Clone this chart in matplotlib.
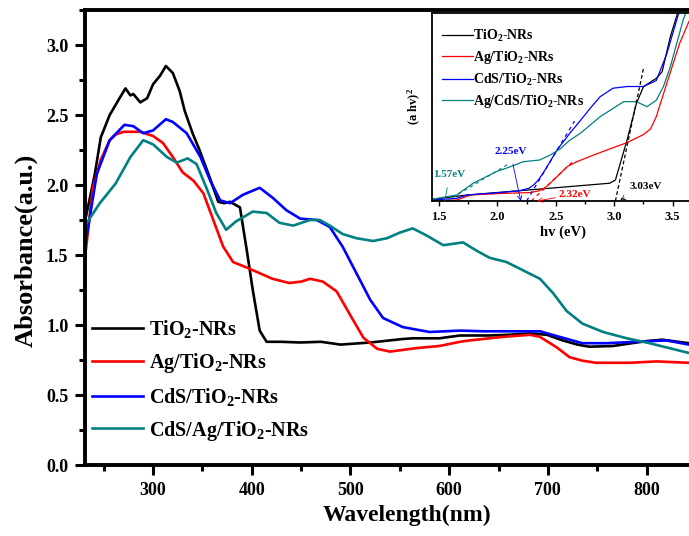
import matplotlib
matplotlib.use("Agg")
import matplotlib.pyplot as plt
from matplotlib.ticker import MultipleLocator

plt.rcParams['font.family'] = ['Liberation Serif', 'DejaVu Serif']
plt.rcParams['font.weight'] = 'bold'
plt.rcParams['mathtext.default'] = 'regular'

TEAL = '#008080'

# UV-vis absorbance spectra
tio2_wl = [231, 241, 247, 256, 266, 272, 277, 280, 287, 294, 300, 307, 313, 320, 327, 332,
           340, 347, 356, 366, 372, 378, 388, 395, 401, 408, 415, 430, 449, 470, 490, 500,
           520, 540, 553, 563, 590, 611, 640, 660, 682, 699, 715, 730, 742, 766, 785, 800,
           816, 843]
tio2_abs = [1.74, 2.08, 2.34, 2.50, 2.62, 2.69, 2.64, 2.65, 2.59, 2.62, 2.72, 2.78, 2.85, 2.80,
            2.67, 2.53, 2.37, 2.25, 2.08, 1.88, 1.87, 1.88, 1.84, 1.53, 1.25, 0.96, 0.88, 0.88,
            0.875, 0.88, 0.86, 0.865, 0.875, 0.89, 0.90, 0.905, 0.905, 0.925, 0.925, 0.93,
            0.94, 0.93, 0.89, 0.86, 0.845, 0.85, 0.87, 0.885, 0.895, 0.87]

ag_wl = [231, 239, 247, 256, 262, 270, 287, 300, 310, 320, 330, 341, 351, 361, 371, 381, 395,
         408, 421, 438, 450, 459, 472, 486, 499, 513, 527, 540, 567, 590, 611, 621, 654, 682,
         692, 709, 722, 735, 749, 783, 810, 843]
ag_abs = [1.48, 1.98, 2.18, 2.32, 2.36, 2.38, 2.38, 2.35, 2.30, 2.20, 2.09, 2.03, 1.94, 1.75,
          1.56, 1.45, 1.41, 1.37, 1.33, 1.30, 1.31, 1.33, 1.31, 1.24, 1.08, 0.91, 0.83, 0.81,
          0.835, 0.85, 0.88, 0.89, 0.915, 0.93, 0.915, 0.84, 0.77, 0.745, 0.73, 0.73, 0.74,
          0.73]

cds_wl = [231, 243, 256, 271, 280, 290, 300, 313, 320, 334, 348, 358, 368, 378, 391, 408, 421,
          435, 449, 466, 479, 492, 506, 520, 533, 553, 580, 611, 635, 665, 692, 712, 735, 759,
          790, 820, 843]
cds_abs = [1.56, 2.08, 2.32, 2.43, 2.42, 2.37, 2.39, 2.47, 2.45, 2.37, 2.20, 2.03, 1.89, 1.87,
           1.93, 1.98, 1.91, 1.82, 1.76, 1.75, 1.70, 1.56, 1.37, 1.18, 1.05, 0.985, 0.95, 0.96,
           0.955, 0.955, 0.955, 0.915, 0.87, 0.87, 0.88, 0.89, 0.86]

cdsag_wl = [231, 246, 262, 277, 290, 300, 314, 324, 335, 344, 354, 364, 374, 384, 401, 415,
            428, 442, 459, 469, 479, 492, 506, 523, 537, 550, 563, 577, 594, 614, 628, 641,
            658, 675, 692, 705, 719, 735, 756, 780, 803, 823, 843]
cdsag_abs = [1.71, 1.87, 2.01, 2.20, 2.32, 2.29, 2.20, 2.16, 2.19, 2.15, 1.98, 1.80, 1.68,
             1.74, 1.81, 1.80, 1.73, 1.71, 1.75, 1.75, 1.71, 1.65, 1.62, 1.60, 1.62, 1.66,
             1.69, 1.64, 1.57, 1.59, 1.53, 1.48, 1.45, 1.39, 1.33, 1.23, 1.10, 1.01, 0.95,
             0.905, 0.87, 0.835, 0.80]

# Tauc plot, (a hv)^2 in arbitrary units
t_tio2_ev = [1.44, 1.74, 2.19, 2.54, 2.96, 3.01, 3.11, 3.19, 3.25, 3.36, 3.41, 3.48, 3.54, 3.60]
t_tio2_y = [0.09, 0.32, 0.55, 0.73, 0.95, 1.12, 3.26, 5.22, 6.11, 6.56, 6.91, 8.78, 10.0, 11.0]

t_ag_ev = [1.44, 1.65, 1.77, 2.02, 2.28, 2.36, 2.42, 2.48, 2.54, 2.60, 2.68, 2.82, 2.99, 3.11,
           3.25, 3.31, 3.36, 3.45, 3.56, 3.64]
t_ag_y = [0.0, 0.05, 0.32, 0.40, 0.45, 0.55, 0.77, 1.12, 1.48, 1.85, 2.10, 2.45, 2.85, 3.12,
          3.55, 3.85, 4.51, 6.29, 8.43, 9.6]

t_cds_ev = [1.44, 1.65, 1.74, 2.02, 2.19, 2.27, 2.31, 2.35, 2.39, 2.45, 2.51, 2.62, 2.71,
            2.80, 2.88, 2.99, 3.11, 3.25, 3.36, 3.45, 3.55, 3.60]
t_cds_y = [0.05, 0.14, 0.32, 0.45, 0.55, 0.68, 0.86, 1.12, 1.48, 2.10, 2.73, 3.62, 4.30,
           5.00, 5.58, 6.03, 6.12, 6.12, 6.44, 7.87, 10.0, 11.0]

t_agcds_ev = [1.44, 1.65, 1.79, 1.99, 2.11, 2.22, 2.36, 2.45, 2.54, 2.62, 2.71, 2.88, 3.08,
              3.19, 3.28, 3.36, 3.42, 3.48, 3.59, 3.64]
t_agcds_y = [0.09, 0.32, 0.94, 1.57, 1.83, 2.1, 2.19, 2.45, 2.80, 3.25, 3.62, 4.51, 5.31,
             5.31, 5.04, 5.39, 6.10, 7.17, 9.68, 10.5]

# band gap tangents: (x0, x1), (y0, y1)
tan_tio2 = ([3.01, 3.25], [0.0, 7.07])
tan_ag = ([2.29, 2.66], [0.0, 2.2])
tan_cds = ([2.25, 2.66], [0.0, 4.27])
tan_agcds = ([1.57, 2.10], [0.0, 2.0])

labels_main = [r'TiO$_2$-NRs', r'Ag/TiO$_2$-NRs', r'CdS/TiO$_2$-NRs', r'CdS/Ag/TiO$_2$-NRs']
labels_inset = [r'TiO$_2$-NRs', r'Ag/TiO$_2$-NRs', r'CdS/TiO$_2$-NRs', r'Ag/CdS/TiO$_2$-NRs']

fig = plt.figure(figsize=(6.89, 5.36), dpi=100)
ax = fig.add_axes([85 / 689, 71 / 536, 604 / 689, 455 / 536])

lw = 1.9
ax.plot(tio2_wl, tio2_abs, color='black', lw=lw, label=labels_main[0])
ax.plot(ag_wl, ag_abs, color='red', lw=lw, label=labels_main[1])
ax.plot(cds_wl, cds_abs, color='blue', lw=lw, label=labels_main[2])
ax.plot(cdsag_wl, cdsag_abs, color=TEAL, lw=lw, label=labels_main[3])

ax.set_xlim(231, 843)
ax.set_ylim(0, 3.25)
ax.xaxis.set_major_locator(MultipleLocator(100))
ax.xaxis.set_minor_locator(MultipleLocator(50))
ax.yaxis.set_major_locator(MultipleLocator(0.5))
ax.yaxis.set_minor_locator(MultipleLocator(0.25))
ax.yaxis.set_major_formatter(lambda v, p: f'{v:.1f}')
ax.tick_params(which='major', direction='out', length=7, width=2.2, labelsize=13, pad=5)
ax.tick_params(which='minor', direction='out', length=4, width=2.2)
for s in ['left', 'bottom', 'top']:
    ax.spines[s].set_linewidth(2.8)
ax.spines['right'].set_visible(False)

ax.set_xlabel('Wavelength(nm)', fontsize=17, fontweight='bold', va='center')
ax.set_ylabel('Absorbance(a.u.)', fontsize=19, fontweight='bold', va='center')
ax.xaxis.set_label_coords(0.533, -0.110)
ax.yaxis.set_label_coords(-0.098, 0.4725)

ax.legend(loc='upper left', bbox_to_anchor=(0.012, 0.322), frameon=False, fontsize=14.5,
          handlelength=2.5, handletextpad=0.3, labelspacing=0.53, borderpad=0,
          borderaxespad=0)

# inset: Tauc plot
ins = fig.add_axes([432 / 689, (536 - 201) / 536, 257 / 689, 188 / 536])
tl = 0.9
ins.plot(t_tio2_ev, t_tio2_y, color='black', lw=tl, label=labels_inset[0])
ins.plot(t_ag_ev, t_ag_y, color='red', lw=tl, label=labels_inset[1])
ins.plot(t_cds_ev, t_cds_y, color='blue', lw=tl, label=labels_inset[2])
ins.plot(t_agcds_ev, t_agcds_y, color=TEAL, lw=tl, label=labels_inset[3])

ins.plot(*tan_tio2, color='black', lw=0.9, ls=(0, (3, 2)))
ins.plot(*tan_ag, color='red', lw=0.9, ls=(0, (3, 3)))
ins.plot(*tan_cds, color='blue', lw=0.9, ls=(0, (3, 3)))
ins.plot(*tan_agcds, color=TEAL, lw=0.8, ls=(0, (3, 3)))

ann = dict(fontsize=8, fontweight='bold', ha='center', va='center')
ins.annotate('3.03eV', xy=(3.05, 0.05), xytext=(3.27, 0.76), color='black',
             arrowprops=dict(arrowstyle='->', color='black', lw=0.6, ls='--',
                             shrinkA=6, shrinkB=0), **ann)
ins.annotate('2.32eV', xy=(2.34, 0.0), xytext=(2.66, 0.36), color='red',
             arrowprops=dict(arrowstyle='->', color='red', lw=0.6,
                             shrinkA=14, shrinkB=0), **ann)
ins.annotate('2.25eV', xy=(2.20, 0.0), xytext=(2.11, 2.64), color='blue',
             arrowprops=dict(arrowstyle='->', color='blue', lw=0.6,
                             shrinkA=4, shrinkB=0), **ann)
ins.annotate('1.57eV', xy=(1.55, 0.0), xytext=(1.59, 1.39), color=TEAL,
             arrowprops=dict(arrowstyle='-', color=TEAL, lw=0.6,
                             shrinkA=4, shrinkB=0), **ann)

ins.set_xlim(1.44, 3.64)
ins.set_ylim(0, 10.05)
ins.xaxis.set_major_locator(MultipleLocator(0.5))
ins.xaxis.set_minor_locator(MultipleLocator(0.25))
ins.set_yticks([])
ins.tick_params(axis='x', which='major', direction='out', length=3.5, width=1.0,
                labelsize=9, pad=4)
ins.tick_params(axis='x', which='minor', direction='out', length=2, width=1.0)
for s in ['left', 'bottom', 'top']:
    ins.spines[s].set_linewidth(1.3)
ins.spines['right'].set_visible(False)
ins.set_xlabel('hv (eV)', fontsize=10.5, fontweight='bold', va='center')
ins.xaxis.set_label_coords(0.51, -0.165)
ins.set_ylabel(r'(a hv)$^2$', fontsize=9, fontweight='bold', va='center')
ins.yaxis.set_label_coords(-0.07, 0.5)

ins.legend(loc='upper left', bbox_to_anchor=(0.039, 0.92), frameon=False, fontsize=10,
           handlelength=2.2, handletextpad=0.05, labelspacing=0.37, borderpad=0,
           borderaxespad=0)

fig.savefig('out.png', dpi=100)
